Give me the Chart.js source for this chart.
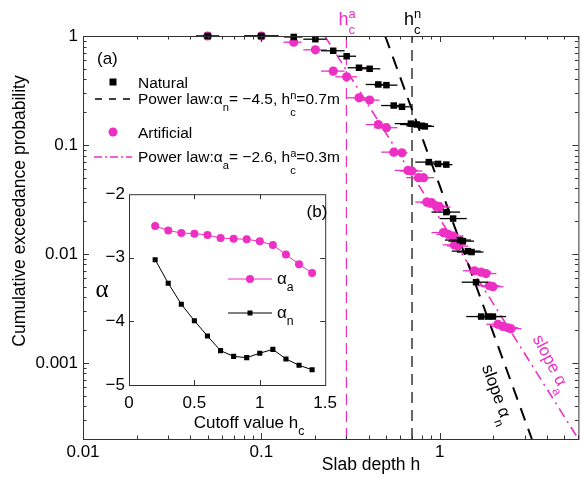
<!DOCTYPE html>
<html>
<head>
<meta charset="utf-8">
<script src="https://cdn.jsdelivr.net/npm/chart.js@4.4.0/dist/chart.umd.min.js"></script>
<style>
body{margin:0;background:#fff}
#wrap{position:relative;width:583px;height:477px}
#main{position:absolute;left:0;top:0}
#inset{position:absolute;left:85px;top:180px}
</style>
</head>
<body>
<div id="wrap">
<canvas id="main" width="583" height="477"></canvas>
<canvas id="inset" width="260" height="260"></canvas>
</div>
<script>
const FONT = '"Liberation Sans", Arial, Helvetica, sans-serif'
const MAG = '#ee2fc4'

// natural slabs: depth, exceedance prob, error bar range
const natH = [0.05,0.1,0.152,0.201,0.253,0.301,0.353,0.405,0.453,0.503,0.553,0.615,0.69,0.745,0.794,0.826,0.87,0.98,1.09,1.09,1.19,1.30,1.35,1.44,1.51,1.60,1.71,1.87,1.99]
const natP = [1,1,0.98,0.935,0.732,0.652,0.511,0.500,0.359,0.354,0.230,0.224,0.157,0.154,0.150,0.148,0.0696,0.067,0.066,0.0242,0.0211,0.0134,0.0131,0.0106,0.0104,0.0055,0.00266,0.00266,0.00266]
const natLo = [0.043,0.08,0.134,0.172,0.216,0.27,0.305,0.35,0.385,0.43,0.47,0.53,0.56,0.6,0.65,0.68,0.73,0.83,0.93,0.9,1.0,1.07,1.12,1.17,1.25,1.33,1.41,1.6,1.7]
const natHi = [0.058,0.125,0.17,0.232,0.293,0.34,0.41,0.465,0.52,0.58,0.64,0.68,0.8,0.86,0.9,0.93,1.0,1.12,1.18,1.3,1.42,1.5,1.56,1.7,1.76,1.87,2.0,2.2,2.36]

// artificial slabs
const artH = [0.05,0.1,0.152,0.201,0.253,0.301,0.353,0.405,0.453,0.503,0.553,0.615,0.664,0.699,0.762,0.812,0.847,0.903,0.962,1.0,1.05,1.12,1.19,1.21,1.27,1.57,1.71,1.82,1.90,1.99,2.12,2.26,2.41,2.51]
const artP = [1,1,0.877,0.747,0.476,0.422,0.271,0.258,0.154,0.144,0.0859,0.0848,0.0584,0.0576,0.0501,0.0501,0.0299,0.0295,0.0275,0.0269,0.0157,0.0151,0.0146,0.0121,0.0118,0.0070,0.0068,0.0066,0.0051,0.0050,0.00226,0.00216,0.00210,0.00206]
const artLo = [0.043,0.08,0.133,0.172,0.216,0.26,0.30,0.35,0.385,0.43,0.47,0.53,0.56,0.6,0.65,0.7,0.73,0.78,0.83,0.86,0.9,0.96,1.02,1.04,1.1,1.35,1.47,1.57,1.64,1.72,1.83,1.95,2.08,2.16]
const artHi = [0.058,0.125,0.168,0.233,0.293,0.345,0.41,0.46,0.52,0.58,0.64,0.66,0.76,0.8,0.88,0.93,0.97,1.03,1.1,1.15,1.2,1.28,1.36,1.4,1.45,1.8,1.95,2.08,2.17,2.28,2.42,2.58,2.75,2.87]

// power law fits (end points) and cutoffs
const natFitH = [0.495, 3.29]
const natFitP = [1, 0.0002]
const artFitH = [0.227, 6]
const artFitP = [1, 0.0002]
const hcNat = 0.7
const hcArt = 0.3

const xTicksMain = [0.01, 0.1, 1]
const xLabelsMain = ['0.01', '0.1', '1']
const yTicksMain = [0.001, 0.01, 0.1, 1]
const yLabelsMain = ['0.001', '0.01', '0.1', '1']

// inset (b)
const cutoff = [0.2,0.3,0.4,0.5,0.6,0.7,0.8,0.9,1.0,1.1,1.2,1.3,1.4]
const alphaA = [-2.50,-2.57,-2.61,-2.62,-2.64,-2.69,-2.70,-2.71,-2.74,-2.80,-2.95,-3.10,-3.24]
const alphaN = [-3.03,-3.40,-3.73,-3.99,-4.23,-4.46,-4.55,-4.57,-4.50,-4.44,-4.59,-4.69,-4.76]

const pts = (xs, ys) => xs.map((x, i) => ({x: x, y: ys[i]}))

// text with sub / superscripts
function partW(ctx, p, size) {
  if (p[1] == 'n') { ctx.font = size + 'px ' + FONT; return ctx.measureText(p[0]).width }
  ctx.font = (size * 0.72) + 'px ' + FONT
  if (p[1] == 'ss') return Math.max(ctx.measureText(p[0]).width, ctx.measureText(p[2]).width)
  return ctx.measureText(p[0]).width
}
function rich(ctx, parts, x, y, size, color, align, sup, sub) {
  sup = sup || 0.35; sub = sub || 0.55
  let w = 0
  parts.forEach(p => w += partW(ctx, p, size))
  let cx = align == 'center' ? x - w / 2 : (align == 'right' ? x - w : x)
  ctx.fillStyle = color
  ctx.textAlign = 'left'
  ctx.textBaseline = 'alphabetic'
  parts.forEach(p => {
    const pw = partW(ctx, p, size)
    if (p[1] == 'n') ctx.fillText(p[0], cx, y)
    else if (p[1] == 'sub') ctx.fillText(p[0], cx, y + size * 0.42)
    else { ctx.fillText(p[0], cx, y - size * sup); ctx.fillText(p[2], cx, y + size * sub) }
    cx += pw
  })
}

function logTicks(min, max) {
  let out = []
  for (let d = Math.floor(Math.log10(min)); d <= Math.ceil(Math.log10(max)); d++) {
    for (let k = 1; k <= 9; k++) {
      const v = k * Math.pow(10, d)
      if (v >= min * 0.999 && v <= max * 1.001) out.push({v: v, major: k == 1})
    }
  }
  return out
}

const errBars = {
  id: 'errBars',
  beforeDatasetDraw(chart, args) {
    const ds = chart.data.datasets[args.index]
    if (!ds.errLo) return
    const ctx = chart.ctx, xs = chart.scales.x, ys = chart.scales.y
    ctx.save()
    ctx.strokeStyle = ds.errColor
    ctx.lineWidth = 1.3
    ds.data.forEach((p, i) => {
      const y = ys.getPixelForValue(p.y)
      ctx.beginPath()
      ctx.moveTo(xs.getPixelForValue(ds.errLo[i]), y)
      ctx.lineTo(xs.getPixelForValue(ds.errHi[i]), y)
      ctx.stroke()
    })
    ctx.restore()
  }
}

const mainDeco = {
  id: 'mainDeco',
  afterDraw(chart) {
    const ctx = chart.ctx, a = chart.chartArea, xs = chart.scales.x, ys = chart.scales.y
    ctx.save()
    ctx.strokeStyle = '#333'
    ctx.lineWidth = 1
    ctx.strokeRect(a.left + 0.5, a.top + 0.5, a.right - a.left, a.bottom - a.top)
    ctx.beginPath()
    logTicks(0.01, 6).forEach(t => {
      const px = Math.round(xs.getPixelForValue(t.v)) + 0.5, l = t.major ? 6 : 3.5
      ctx.moveTo(px, a.bottom); ctx.lineTo(px, a.bottom - l)
      ctx.moveTo(px, a.top); ctx.lineTo(px, a.top + l)
    })
    logTicks(0.0002, 1).forEach(t => {
      const py = Math.round(ys.getPixelForValue(t.v)) + 0.5, l = t.major ? 6 : 3.5
      ctx.moveTo(a.left, py); ctx.lineTo(a.left + l, py)
      ctx.moveTo(a.right, py); ctx.lineTo(a.right - l, py)
    })
    ctx.stroke()

    // axis titles
    ctx.fillStyle = '#000'
    ctx.font = '17.5px ' + FONT
    ctx.textAlign = 'center'
    ctx.textBaseline = 'middle'
    ctx.fillText('Slab depth h', 371, 465)
    ctx.save()
    ctx.translate(20, 211)
    ctx.rotate(-Math.PI / 2)
    ctx.fillText('Cumulative exceedance probability', 0, 0)
    ctx.restore()

    // cutoff labels on top
    rich(ctx, [['h', 'n'], ['a', 'ss', 'c']], xs.getPixelForValue(hcArt) - 8, 25, 18, MAG, 'left', 0.38, 0.48)
    rich(ctx, [['h', 'n'], ['n', 'ss', 'c']], xs.getPixelForValue(hcNat) - 8, 25, 18, '#000', 'left', 0.38, 0.48)

    // legend (a)
    ctx.font = '17px ' + FONT
    ctx.fillStyle = '#000'
    ctx.textAlign = 'left'
    ctx.textBaseline = 'alphabetic'
    ctx.fillText('(a)', 97, 64)
    const fs = 15.5
    ctx.fillRect(109.5, 78.5, 7, 7)
    rich(ctx, [['Natural', 'n']], 138, 88, fs, '#000', 'left')
    ctx.lineWidth = 1.5
    ctx.strokeStyle = '#000'
    ctx.setLineDash([7, 7])
    ctx.beginPath(); ctx.moveTo(95, 99); ctx.lineTo(134, 99); ctx.stroke()
    rich(ctx, [['Power law:', 'n'], ['α', 'n'], ['n', 'sub'], ['= −4.5, h', 'n'], ['n', 'ss', 'c'], ['=0.7m', 'n']], 138, 104, fs, '#000', 'left', 0.35, 0.8)
    ctx.setLineDash([])
    ctx.fillStyle = MAG
    ctx.beginPath(); ctx.arc(113, 132, 4.5, 0, Math.PI * 2); ctx.fill()
    rich(ctx, [['Artificial', 'n']], 138, 138, fs, '#000', 'left')
    ctx.strokeStyle = MAG
    ctx.setLineDash([8, 3, 2, 3])
    ctx.beginPath(); ctx.moveTo(94, 157); ctx.lineTo(132, 157); ctx.stroke()
    ctx.setLineDash([])
    rich(ctx, [['Power law:', 'n'], ['α', 'n'], ['a', 'sub'], ['= −2.6, h', 'n'], ['a', 'ss', 'c'], ['=0.3m', 'n']], 138, 162, fs, '#000', 'left', 0.35, 0.8)

    // slope labels
    ctx.save()
    ctx.translate(498, 394)
    ctx.rotate(70 * Math.PI / 180)
    rich(ctx, [['slope ', 'n'], ['α', 'n'], ['n', 'sub']], 0, 6, 17, '#000', 'center')
    ctx.restore()
    ctx.save()
    ctx.translate(552, 363)
    ctx.rotate(62 * Math.PI / 180)
    rich(ctx, [['slope ', 'n'], ['α', 'n'], ['a', 'sub']], 0, 6, 17, MAG, 'center')
    ctx.restore()
    ctx.restore()
  }
}

new Chart(document.getElementById('main'), {
  type: 'scatter',
  data: {
    datasets: [
      {data: pts(natH, natP), errLo: natLo, errHi: natHi, errColor: '#000', pointStyle: 'rect', pointRadius: 4.6, pointBackgroundColor: '#000', pointBorderWidth: 0, clip: false},
      {data: pts(artH, artP), errLo: artLo, errHi: artHi, errColor: MAG, pointStyle: 'circle', pointRadius: 4.6, pointBackgroundColor: MAG, pointBorderWidth: 0, clip: false},
      {type: 'line', data: pts(natFitH, natFitP), borderColor: '#000', borderWidth: 2, borderDash: [13, 9], pointRadius: 0, fill: false},
      {type: 'line', data: pts(artFitH, artFitP), borderColor: MAG, borderWidth: 1.6, borderDash: [10, 5, 2, 5], pointRadius: 0, fill: false},
      {type: 'line', data: [{x: hcNat, y: 0.0002}, {x: hcNat, y: 1}], borderColor: '#000', borderWidth: 1.2, borderDash: [11, 7], pointRadius: 0, fill: false},
      {type: 'line', data: [{x: hcArt, y: 0.0002}, {x: hcArt, y: 1}], borderColor: MAG, borderWidth: 1.2, borderDash: [11, 6], pointRadius: 0, fill: false}
    ]
  },
  options: {
    responsive: false,
    animation: false,
    events: [],
    layout: {padding: {top: 36, right: 1}},
    plugins: {legend: {display: false}, tooltip: {enabled: false}},
    scales: {
      x: {
        type: 'logarithmic', min: 0.01, max: 6,
        grid: {display: false, drawTicks: false}, border: {display: false},
        ticks: {padding: 3, color: '#000', font: {family: FONT, size: 17}, autoSkip: false, maxRotation: 0, callback: (v, i) => xLabelsMain[i]},
        afterBuildTicks(s) { s.ticks = xTicksMain.map(v => ({value: v})) },
        afterFit(s) { s.height = 38 }
      },
      y: {
        type: 'logarithmic', min: 0.0002, max: 1,
        grid: {display: false, drawTicks: false}, border: {display: false},
        ticks: {padding: 5, color: '#000', font: {family: FONT, size: 17}, autoSkip: false, callback: (v, i) => yLabelsMain[i]},
        afterBuildTicks(s) { s.ticks = yTicksMain.map(v => ({value: v})) },
        afterFit(s) { s.width = 83 }
      }
    }
  },
  plugins: [errBars, mainDeco]
})

const insetDeco = {
  id: 'insetDeco',
  beforeDatasetsDraw(chart) {
    const ctx = chart.ctx, a = chart.chartArea
    ctx.save()
    ctx.fillStyle = '#fff'
    ctx.fillRect(a.left, a.top, a.right - a.left, a.bottom - a.top)
    ctx.restore()
  },
  afterDraw(chart) {
    const ctx = chart.ctx, a = chart.chartArea, xs = chart.scales.x, ys = chart.scales.y
    ctx.save()
    ctx.strokeStyle = '#333'
    ctx.lineWidth = 1
    ctx.strokeRect(a.left + 0.5, a.top + 0.5, a.right - a.left, a.bottom - a.top)
    ctx.beginPath()
    ;[0.5, 1].forEach(v => {
      const px = Math.round(xs.getPixelForValue(v)) + 0.5
      ctx.moveTo(px, a.bottom); ctx.lineTo(px, a.bottom - 5)
      ctx.moveTo(px, a.top); ctx.lineTo(px, a.top + 5)
    })
    ;[-4, -3].forEach(v => {
      const py = Math.round(ys.getPixelForValue(v)) + 0.5
      ctx.moveTo(a.left, py); ctx.lineTo(a.left + 5, py)
      ctx.moveTo(a.right, py); ctx.lineTo(a.right - 5, py)
    })
    ctx.stroke()

    rich(ctx, [['Cutoff value h', 'n'], ['c', 'sub']], 164, 248, 17, '#000', 'center')
    ctx.fillStyle = '#000'
    ctx.font = '25px "Liberation Serif", "Times New Roman", serif'
    ctx.textAlign = 'center'
    ctx.textBaseline = 'middle'
    ctx.fillText('α', 17, 110)
    ctx.font = '17px ' + FONT
    ctx.fillText('(b)', 232, 32)

    // legend
    ctx.lineWidth = 1
    ctx.strokeStyle = MAG
    ctx.beginPath(); ctx.moveTo(143, 99); ctx.lineTo(187, 99); ctx.stroke()
    ctx.fillStyle = MAG
    ctx.beginPath(); ctx.arc(165, 99, 4, 0, Math.PI * 2); ctx.fill()
    ctx.strokeStyle = '#000'
    ctx.beginPath(); ctx.moveTo(143, 133); ctx.lineTo(187, 133); ctx.stroke()
    ctx.fillStyle = '#000'
    ctx.fillRect(162.5, 130.5, 5, 5)
    rich(ctx, [['α', 'n'], ['a', 'sub']], 192, 104, 17, '#000', 'left')
    rich(ctx, [['α', 'n'], ['n', 'sub']], 192, 138, 17, '#000', 'left')
    ctx.restore()
  }
}

new Chart(document.getElementById('inset'), {
  type: 'line',
  data: {
    datasets: [
      {data: pts(cutoff, alphaN), borderColor: '#000', borderWidth: 1, pointStyle: 'rect', pointRadius: 3.6, pointBackgroundColor: '#000', pointBorderWidth: 0, fill: false},
      {data: pts(cutoff, alphaA), borderColor: MAG, borderWidth: 1, pointStyle: 'circle', pointRadius: 4, pointBackgroundColor: MAG, pointBorderWidth: 0, fill: false}
    ]
  },
  options: {
    responsive: false,
    animation: false,
    events: [],
    layout: {padding: {top: 13, right: 10}},
    plugins: {legend: {display: false}, tooltip: {enabled: false}},
    scales: {
      x: {
        type: 'linear', min: 0, max: 1.5,
        grid: {display: false, drawTicks: false}, border: {display: false},
        ticks: {stepSize: 0.5, padding: 8, color: '#000', font: {family: FONT, size: 17}, maxRotation: 0, callback: v => String(v)},
        afterFit(s) { s.height = 55 }
      },
      y: {
        type: 'linear', min: -5, max: -2,
        grid: {display: false, drawTicks: false}, border: {display: false},
        ticks: {stepSize: 1, padding: 4, color: '#000', font: {family: FONT, size: 17}, callback: v => '−' + Math.abs(v)},
        afterFit(s) { s.width = 44 }
      }
    }
  },
  plugins: [insetDeco]
})
</script>
</body>
</html>
